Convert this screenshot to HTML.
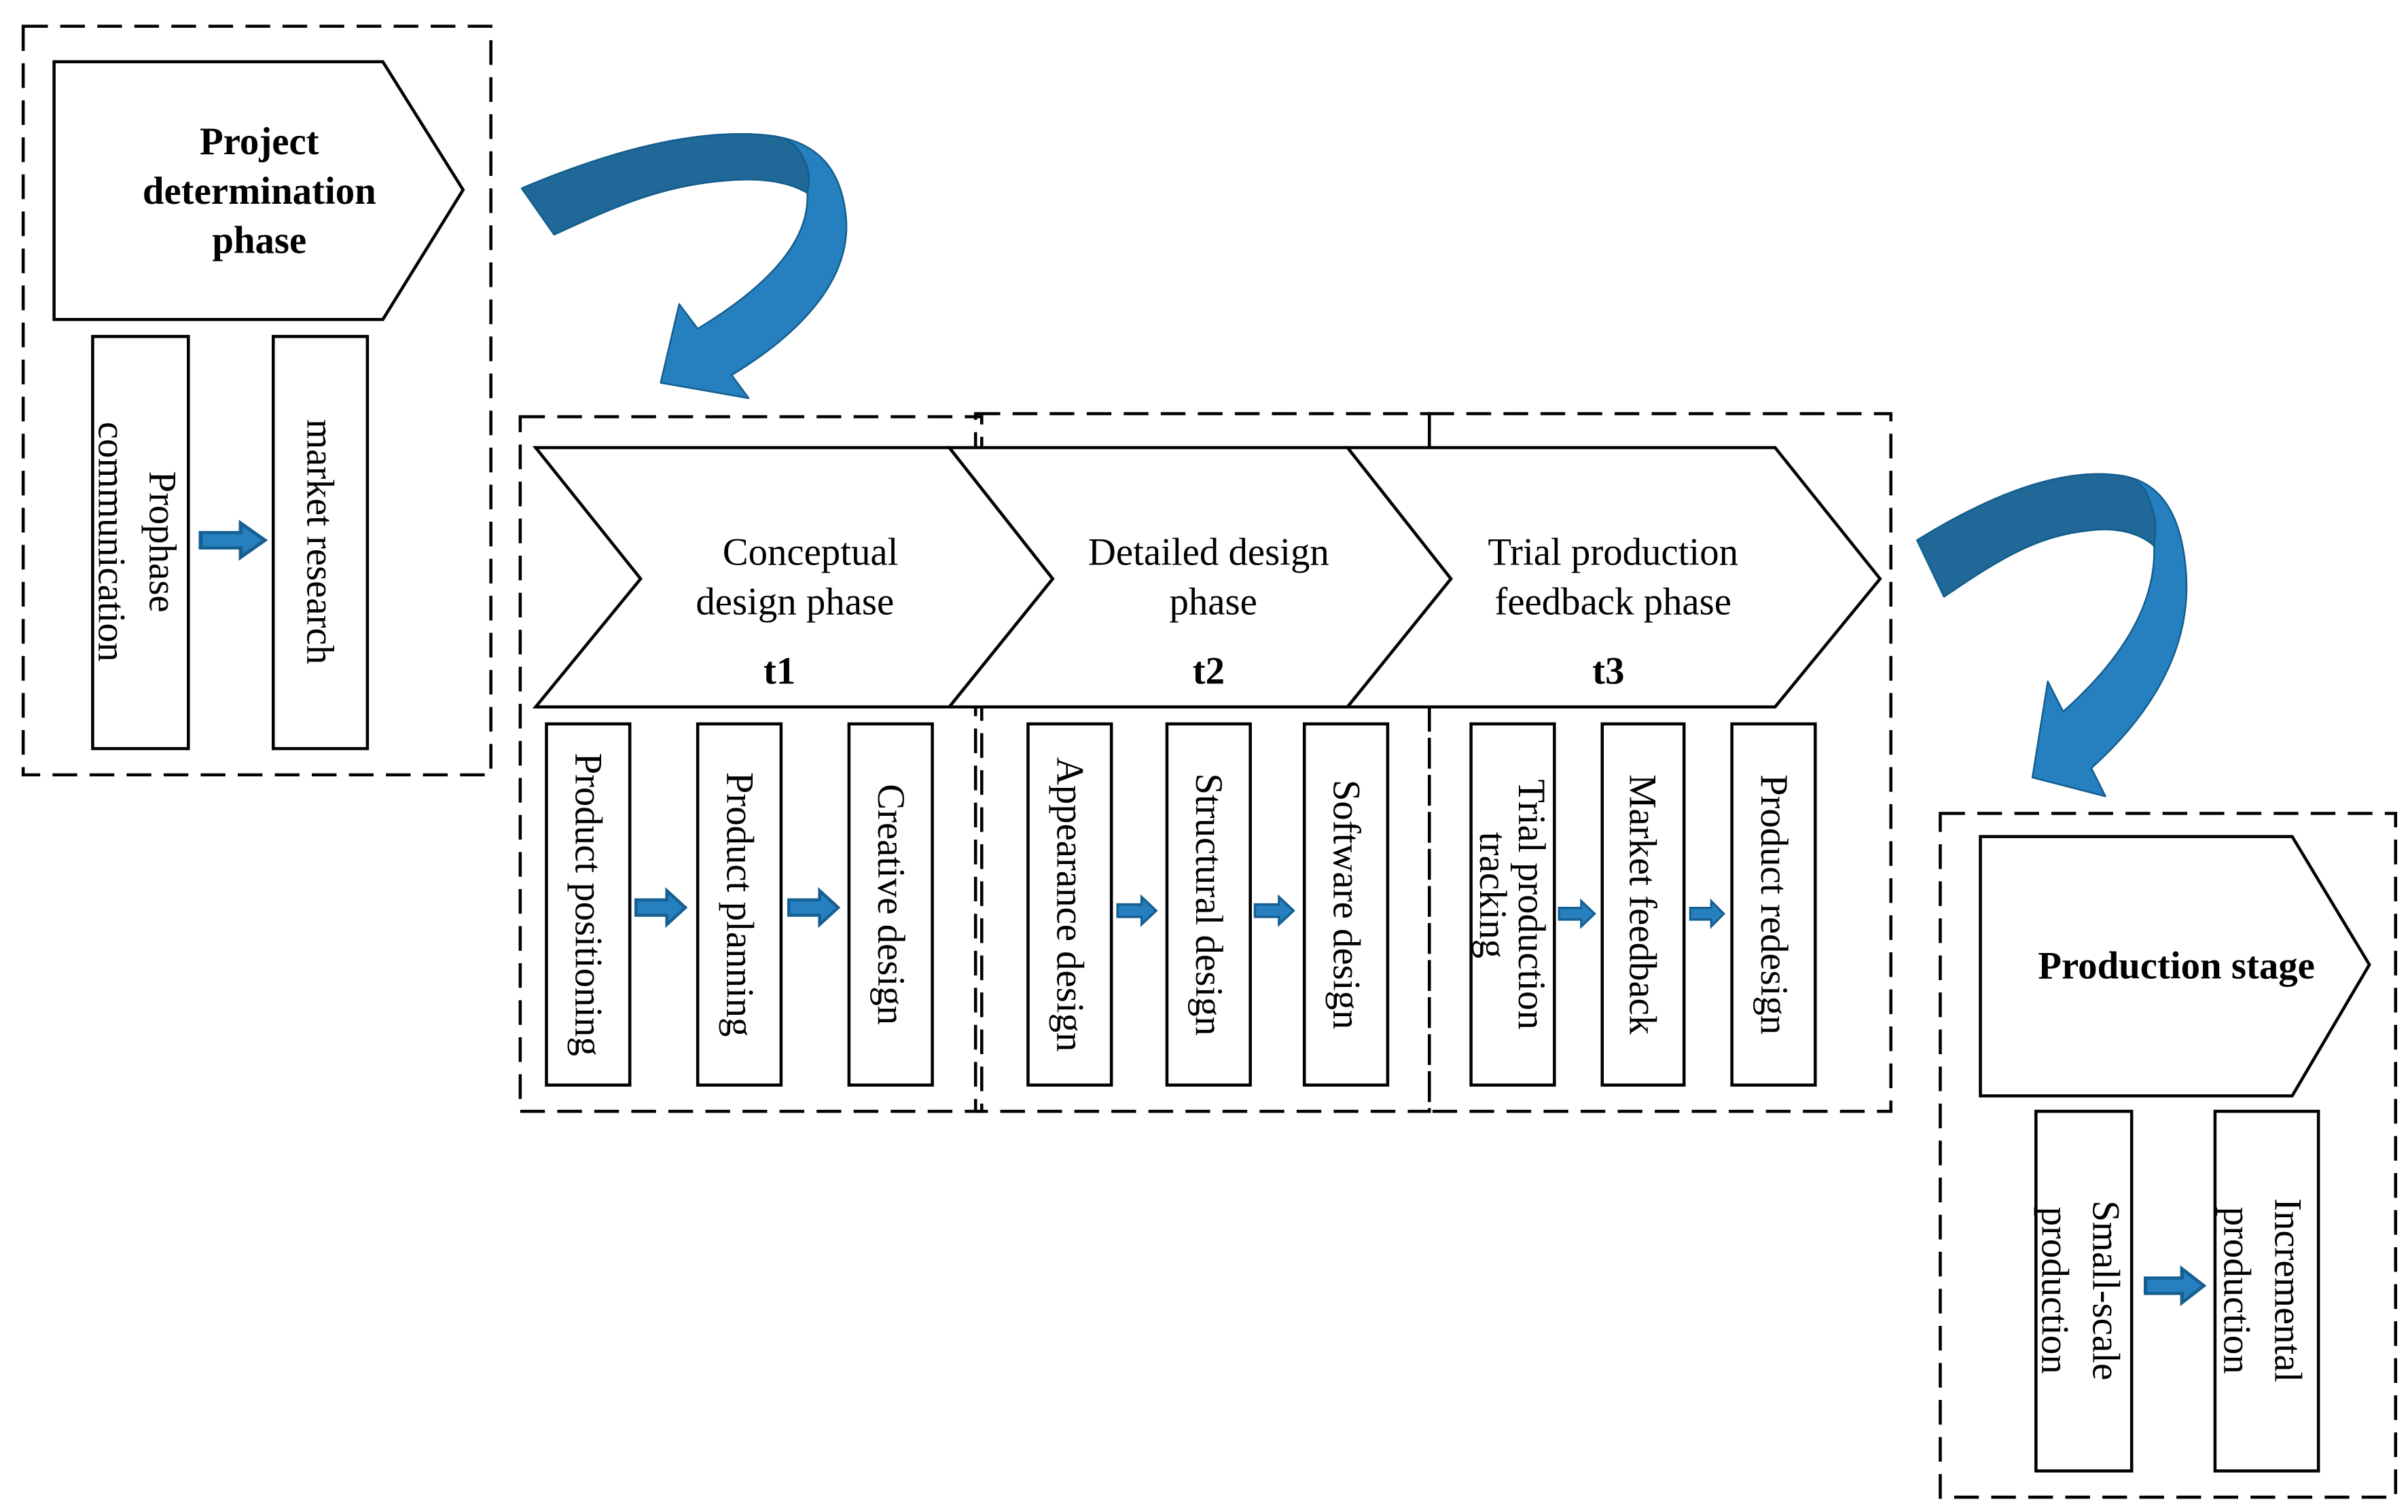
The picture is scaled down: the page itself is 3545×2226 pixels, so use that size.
<!DOCTYPE html>
<html><head><meta charset="utf-8"><style>
html,body{margin:0;padding:0;background:#fff}
svg{display:block}
text,tspan{font-family:"Liberation Serif","Times New Roman",serif;fill:#000}
</style></head><body>
<svg width="3545" height="2226" viewBox="0 0 1560 979.6" xmlns="http://www.w3.org/2000/svg" font-family="Liberation Serif, serif">
<defs>
<g id="sa"><path d="M0,-5 L20,-5 L20,-11 L32,0 L20,11 L20,5 L0,5 Z" fill="#2680c0" stroke="#165f92" stroke-width="2"/></g>
<g id="ca">
<path d="M338,122 C390,100 450,82 500,88 C530,92 545,110 548,140 C552,180 520,215 474,243 L485,258 L428,248 L440,197 L452,213 C490,190 525,160 523,125 C510,117 490,115 470,117 C430,120 400,133 359,152 Z" fill="#2680c0" stroke="#135e8e" stroke-width="2.5" stroke-linejoin="round" vector-effect="non-scaling-stroke"/>
<path d="M338,122 C390,100 450,82 500,88 C513,90 518,96 522,106 C525,112 524,118 523,125 C510,117 490,115 470,117 C430,120 400,133 359,152 Z" fill="#1f6898" stroke="#135e8e" stroke-width="2.5" stroke-linejoin="round" vector-effect="non-scaling-stroke"/>
</g>
</defs>
<g fill="none" stroke="#000" stroke-width="2" stroke-dasharray="16 8">
<rect x="15" y="17" width="303" height="485"/>
<rect x="337" y="270" width="299" height="450"/>
<rect x="632" y="268" width="294" height="452"/>
<rect x="926" y="268" width="299" height="452"/>
<rect x="1257" y="527" width="295" height="443"/>
</g>
<line x1="926" y1="268" x2="926" y2="290" stroke="#000" stroke-width="2"/>
<g fill="#fff" stroke="#000" stroke-width="2">
<path d="M35,40 L248,40 L300,123 L248,207 L35,207 Z"/>
<path d="M1283,542 L1485,542 L1535,625 L1485,710 L1283,710 Z"/>
<path d="M347,290 L615,290 L682,375 L615,458 L347,458 L415,375 Z"/>
<path d="M615,290 L873,290 L940,375 L873,458 L615,458 L682,375 Z"/>
<path d="M873,290 L1150,290 L1218,375 L1150,458 L873,458 L940,375 Z"/>
<rect x="60" y="218" width="62" height="267"/>
<rect x="177" y="218" width="61" height="267"/>
<rect x="354" y="469" width="54" height="234"/>
<rect x="452" y="469" width="54" height="234"/>
<rect x="550" y="469" width="54" height="234"/>
<rect x="666" y="469" width="54" height="234"/>
<rect x="756" y="469" width="54" height="234"/>
<rect x="845" y="469" width="54" height="234"/>
<rect x="953" y="469" width="54" height="234"/>
<rect x="1038" y="469" width="53" height="234"/>
<rect x="1122" y="469" width="54" height="234"/>
<rect x="1319" y="720" width="62" height="233"/>
<rect x="1435" y="720" width="67" height="233"/>
</g>
<g font-weight="bold" font-size="25" text-anchor="middle">
<text x="168" y="100">Project</text>
<text x="168" y="132">determination</text>
<text x="168" y="164">phase</text>
<text x="1410" y="634">Production stage</text>
<text x="505" y="443">t1</text>
<text x="783" y="443">t2</text>
<text x="1042" y="443">t3</text>
</g>
<g font-size="25" text-anchor="middle">
<text x="525" y="366">Conceptual</text>
<text x="515" y="398">design phase</text>
<text x="783" y="366">Detailed design</text>
<text x="786" y="398">phase</text>
<text x="1045" y="366">Trial production</text>
<text x="1045" y="398">feedback phase</text>
</g>
<g font-size="25" text-anchor="middle">
<text transform="translate(91,351) rotate(90)"><tspan x="0" y="-6">Prophase</tspan><tspan x="0" y="27">communication</tspan></text>
<text transform="translate(207,351) rotate(90)" y="8">market research</text>
<text transform="translate(381,586) rotate(90)" y="8">Product positioning</text>
<text transform="translate(479,586) rotate(90)" y="8">Product planning</text>
<text transform="translate(577,586) rotate(90)" y="8">Creative design</text>
<text transform="translate(693,586) rotate(90)" y="8">Appearance design</text>
<text transform="translate(783,586) rotate(90)" y="8">Structural design</text>
<text transform="translate(872,586) rotate(90)" y="8">Software design</text>
<text transform="translate(980,586) rotate(90)"><tspan x="0" y="-4">Trial production</tspan><tspan x="-6" y="21">tracking</tspan></text>
<text transform="translate(1064,586) rotate(90)" y="8">Market feedback</text>
<text transform="translate(1149,586) rotate(90)" y="8">Product redesign</text>
<text transform="translate(1350,836) rotate(90)"><tspan x="0" y="-6">Small-scale</tspan><tspan x="0" y="27">production</tspan></text>
<text transform="translate(1468,836) rotate(90)"><tspan x="0" y="-6">Incremental</tspan><tspan x="0" y="27">production</tspan></text>
</g>
<use href="#sa" transform="translate(130,350) scale(1.3,1)"/>
<use href="#sa" transform="translate(412,588)"/>
<use href="#sa" transform="translate(511,588)"/>
<use href="#sa" transform="translate(724,590) scale(0.78,0.8)"/>
<use href="#sa" transform="translate(813,590) scale(0.78,0.8)"/>
<use href="#sa" transform="translate(1010,592) scale(0.72,0.75)"/>
<use href="#sa" transform="translate(1095,592) scale(0.68,0.75)"/>
<use href="#sa" transform="translate(1390,833) scale(1.18,1)"/>
<use href="#ca"/>
<use href="#ca" transform="translate(1242,350) scale(0.83,1.22) translate(-338,-122)"/>
</svg>
</body></html>
